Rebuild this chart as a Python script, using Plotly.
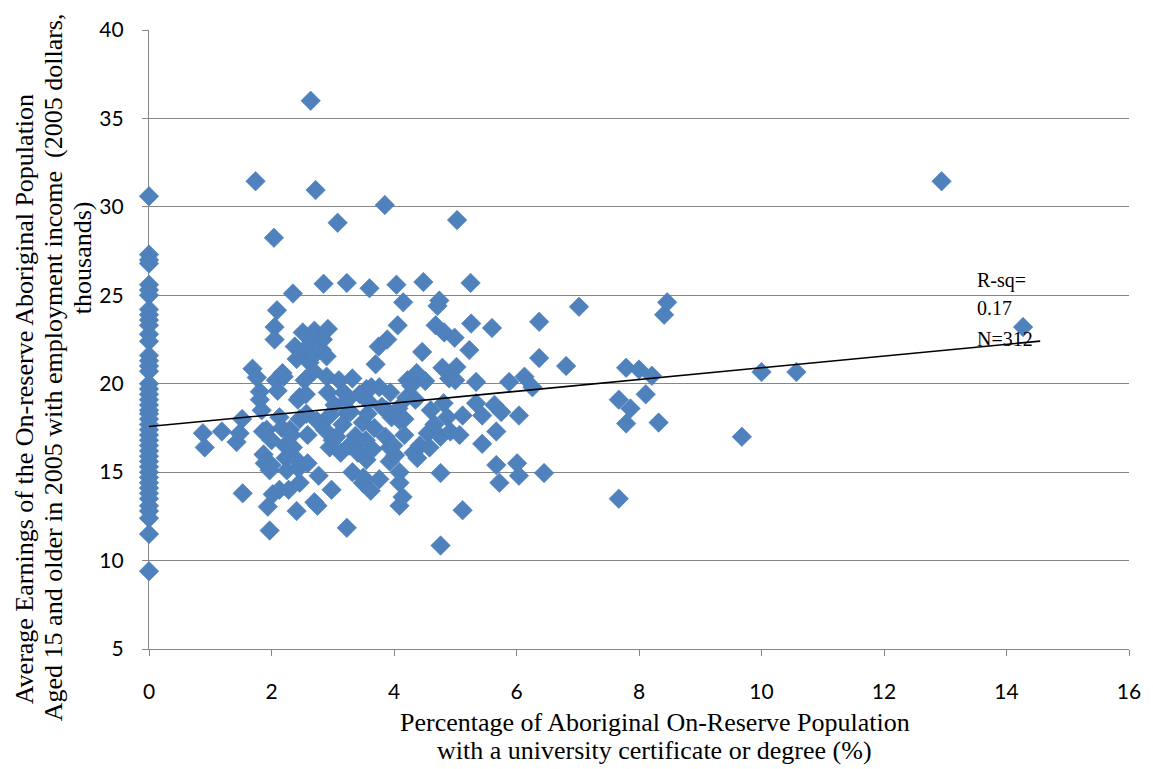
import plotly.graph_objects as go

# ---- data ----
zero_pct_earnings = [30.6, 27.3, 27.0, 26.8, 25.6, 25.3, 25.0, 24.2, 23.9, 23.6, 23.3,
                     22.8, 22.4, 21.6, 21.3, 21.0, 20.7, 20.0, 19.7, 19.4, 19.1, 18.8,
                     18.5, 18.3, 18.0, 17.7, 17.4, 17.1, 16.8, 16.5, 16.2, 15.9, 15.6,
                     15.3, 15.0, 14.7, 14.4, 14.1, 13.8, 13.5, 13.1, 12.8, 12.4, 11.5, 9.4]

univ_pct = [0.88, 0.91, 1.19, 1.43, 1.48, 1.52, 1.53, 1.69, 1.74, 1.76, 1.81, 1.81, 1.84, 1.86,
            1.87, 1.89, 1.92, 1.94, 1.97, 1.97, 2.0, 2.0, 2.02, 2.04, 2.05, 2.05, 2.09, 2.07,
            2.1, 2.13, 2.13, 2.17, 2.2, 2.22, 2.23, 2.25, 2.28, 2.18, 2.3, 2.33, 2.35, 2.35,
            2.38, 2.41, 2.43, 2.44, 2.41, 2.41, 2.46, 2.46, 2.46, 2.51, 2.53, 2.54, 2.56, 2.57,
            2.59, 2.59, 2.64, 2.62, 2.67, 2.69, 2.69, 2.7, 2.7, 2.72, 2.74, 2.77, 2.75, 2.82,
            2.84, 2.85, 2.87, 2.9, 2.92, 2.9, 2.92, 2.95, 2.95, 2.98, 3.0, 3.03, 3.06, 3.08,
            3.1, 3.13, 3.16, 3.18, 3.23, 3.23, 3.23, 3.24, 3.27, 3.29, 3.32, 3.32, 3.37, 3.39,
            3.41, 3.44, 3.49, 3.49, 3.5, 3.55, 3.55, 3.54, 3.57, 3.58, 3.6, 3.62, 3.63, 3.65,
            3.68, 3.7, 3.75, 3.76, 3.76, 3.8, 3.85, 3.86, 3.88, 3.89, 3.93, 3.93, 3.94, 3.96,
            3.99, 4.02, 4.06, 4.04, 4.07, 4.09, 4.09, 4.09, 4.09, 4.14, 4.15, 4.17, 4.17, 4.2,
            4.22, 4.28, 4.32, 4.35, 4.37, 4.38, 4.42, 4.46, 4.48, 4.51, 4.55, 4.58, 4.6, 4.66,
            4.68, 4.71, 4.74, 4.76, 4.76, 4.76, 4.79, 4.81, 4.82, 4.87, 4.9, 4.92, 4.99, 5.0,
            5.03, 5.02, 5.07, 5.12, 5.12, 5.23, 5.25, 5.26, 5.34, 5.34, 5.44, 5.44, 5.6, 5.64,
            5.75, 5.67, 5.67, 5.72, 5.88, 6.01, 6.04, 6.04, 6.13, 6.26, 6.37, 6.37, 6.45, 6.81,
            7.02, 7.67, 7.67, 7.79, 7.79, 7.86, 8.0, 8.11, 8.21, 8.32, 8.41, 8.46, 9.68, 10.0,
            10.57, 12.94, 14.27]

earnings = [17.2, 16.4, 17.3, 16.7, 17.2, 18.0, 13.8, 20.85, 31.45, 20.35, 19.55, 19.1, 18.5, 17.3,
            16.0, 15.5, 17.4, 13.05, 11.7, 15.1, 16.8, 15.4, 13.75, 28.25, 23.2, 22.5, 24.15, 20.2,
            19.6, 18.1, 14.0, 17.5, 20.4, 16.5, 15.8, 15.1, 14.0, 20.6, 17.4, 17.1, 16.4, 25.1,
            22.1, 21.4, 19.1, 15.2, 12.8, 15.7, 14.4, 18.0, 19.25, 22.9, 21.9, 20.2, 19.4, 18.3,
            17.1, 15.5, 36.0, 21.2, 22.5, 21.6, 20.7, 13.3, 23.0, 30.95, 17.9, 14.8, 13.1, 21.9,
            22.5, 25.65, 17.4, 20.4, 23.1, 21.55, 19.5, 18.2, 16.4, 14.0, 16.8, 18.8, 17.0, 29.1,
            20.2, 16.1, 17.7, 19.5, 11.85, 25.7, 18.35, 19.1, 16.5, 18.4, 20.3, 15.0, 17.05, 16.6,
            16.1, 19.4, 17.8, 14.4, 14.7, 19.7, 15.7, 16.8, 18.3, 19.0, 25.4, 13.95, 19.8, 16.3,
            17.5, 21.1, 22.1, 19.8, 14.6, 18.7, 30.1, 17.0, 18.5, 22.5, 15.6, 16.4, 19.5, 18.1,
            16.5, 15.95, 23.3, 25.6, 18.6, 15.0, 13.1, 14.4, 17.95, 13.6, 24.6, 18.0, 17.1, 19.2,
            20.2, 19.9, 16.1, 19.1, 20.6, 15.8, 16.5, 21.8, 25.75, 20.15, 17.2, 16.4, 18.5, 17.7,
            23.3, 24.4, 24.7, 17.0, 14.95, 10.85, 20.9, 18.9, 22.9, 18.1, 20.3, 17.3, 22.6, 20.2,
            29.25, 20.95, 17.1, 18.2, 12.85, 21.9, 25.7, 23.4, 20.1, 18.9, 18.2, 16.6, 23.15, 18.8,
            18.4, 17.3, 15.4, 14.4, 20.1, 15.5, 14.8, 18.2, 20.4, 19.8, 21.45, 23.5, 14.95, 21.0,
            24.35, 13.5, 19.1, 20.9, 17.75, 18.6, 20.8, 19.4, 20.45, 17.8, 23.9, 24.6, 17.0, 20.66,
            20.66, 31.45, 23.2]

trend_intercept = 17.58
trend_slope = 0.332
trend_x_end = 14.55
stats_text = ["R-sq=", "0.17", "N=312"]

x_ticks = [0, 2, 4, 6, 8, 10, 12, 14, 16]
y_ticks = [5, 10, 15, 20, 25, 30, 35, 40]

x_title = ["Percentage of Aboriginal On-Reserve Population",
           "with a university certificate or degree (%)"]
y_title = ["Average Earnings of the On-reserve Aboriginal Population",
           "Aged 15 and older in 2005 with employment income  (2005 dollars,",
           "thousands)"]

# ---- figure ----
all_x = [0.0] * len(zero_pct_earnings) + univ_pct
all_y = zero_pct_earnings + earnings

fig = go.Figure()
fig.add_trace(go.Scatter(
    x=all_x, y=all_y, mode="markers",
    marker=dict(symbol="diamond", size=15, color="#4F81BD",
                line=dict(width=0.6, color="#4A7DBA")),
    cliponaxis=False, showlegend=False, hoverinfo="x+y"))

fig.add_trace(go.Scatter(
    x=[0, trend_x_end], y=[trend_intercept, trend_intercept + trend_slope * trend_x_end],
    mode="lines", line=dict(color="black", width=1.6),
    cliponaxis=False, showlegend=False, hoverinfo="skip"))

W, H = 1153, 769
ml, mr, mt, mb = 149, 22, 30, 120
pw, ph = W - ml - mr, H - mt - mb

def px_x(p):
    return (p - ml) / pw

def px_y(p):
    return (H - mb - p) / ph

serif = "Liberation Serif, Times New Roman, serif"
title_font = dict(family=serif, size=26, color="#000")
tickfont = dict(family="Lato, Carlito, Calibri, sans-serif", size=21, color="#000000")

annotations = []
for txt, cy in zip(x_title, [722, 750]):
    annotations.append(dict(text=txt, xref="paper", yref="paper",
                            x=px_x(656), y=px_y(cy), xanchor="center", yanchor="middle",
                            showarrow=False, font=title_font))
for txt, cx, cy in zip(y_title, [24, 53, 82], [399, 367, 258]):
    annotations.append(dict(text=txt, xref="paper", yref="paper", x=px_x(cx), y=px_y(cy),
                            xanchor="center", yanchor="middle", textangle=-90,
                            showarrow=False, font=title_font))
for txt, cy in zip(stats_text, [280, 308, 339]):
    annotations.append(dict(text=txt, xref="paper", yref="paper",
                            x=px_x(977), y=px_y(cy), xanchor="left", yanchor="middle",
                            align="left", showarrow=False,
                            font=dict(family=serif, size=20, color="#000")))

fig.update_layout(
    width=W, height=H,
    margin=dict(l=ml, r=mr, t=mt, b=mb, pad=0),
    paper_bgcolor="white", plot_bgcolor="white",
    annotations=annotations,
    xaxis=dict(range=[0, 16], tickvals=x_ticks, showgrid=False, zeroline=False,
               showline=True, linecolor="#868686", linewidth=1.3,
               ticks="outside", ticklen=6, tickcolor="#868686", tickwidth=1.3,
               tickfont=tickfont, ticklabelstandoff=18, layer="below traces"),
    yaxis=dict(range=[5, 40], tickvals=y_ticks, showgrid=True, gridcolor="#868686",
               gridwidth=1.3, zeroline=False,
               showline=True, linecolor="#868686", linewidth=1.3,
               ticks="outside", ticklen=6, tickcolor="#868686", tickwidth=1.3,
               tickfont=tickfont, ticklabelstandoff=14, layer="below traces"),
)

fig.write_html("out.html")
